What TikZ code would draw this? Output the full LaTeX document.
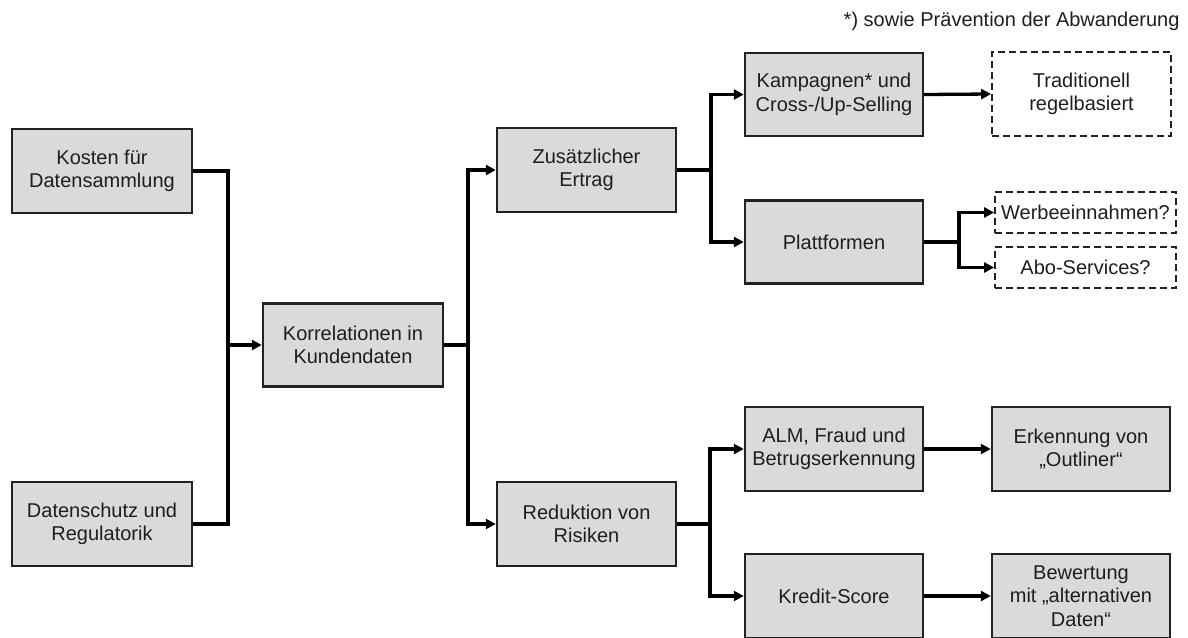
\documentclass[tikz,border=0pt]{standalone}
\usepackage{fontspec}
\setmainfont{Liberation Sans}
\usetikzlibrary{arrows.meta}
\definecolor{boxfill}{HTML}{DADADA}
\definecolor{boxline}{HTML}{222222}
\definecolor{txt}{HTML}{1E1E1E}
\tikzset{
  box/.style={draw=boxline, line width=2.4pt, fill=boxfill, minimum width=179pt, minimum height=84pt, inner sep=0pt, align=center, text=txt, font=\fontsize{20}{23.5}\selectfont},
  dbox/.style={draw=boxline, line width=1.8pt, dash pattern=on 7pt off 4pt, fill=white, minimum width=180pt, inner sep=0pt, align=center, text=txt, font=\fontsize{20}{23.5}\selectfont},
  conn/.style={line width=3.3pt, draw=black},
  arr/.style={conn, -{Triangle[length=10pt,width=10pt]}}
}
\begin{document}
\begin{tikzpicture}[x=1pt,y=-1pt]
\path[use as bounding box] (0,0) rectangle (1188,637);
\node[anchor=east, text=txt, font=\fontsize{20}{23}\selectfont] (note) at (1183,21) {*) sowie Prävention der Abwanderung};

\node[box, minimum width=180pt] (kosten) at (102,171) {Kosten für\\Datensammlung};
\node[box, minimum width=180pt] (daten) at (102,524) {Datenschutz und\\Regulatorik};
\node[box, minimum width=180pt, minimum height=83pt] (korr) at (353,345) {Korrelationen in\\Kundendaten};
\node[box] (zus) at (586.5,170) {Zusätzlicher\\Ertrag};
\node[box] (red) at (586.5,524) {Reduktion von\\Risiken};
\node[box, minimum width=178pt, minimum height=83pt] (kamp) at (834,94.5) {Kampagnen* und\\Cross-/Up-Selling};
\node[dbox, minimum width=179pt, minimum height=84pt] (trad) at (1081.5,94) {Traditionell\\regelbasiert};
\node[box, minimum width=178pt, minimum height=83pt] (platt) at (834,242) {Plattformen};
\node[dbox, minimum width=181pt, minimum height=41pt] (werbe) at (1085.5,212.5) {Werbeeinnahmen?};
\node[dbox, minimum width=181pt, minimum height=41pt] (abo) at (1085.5,267.5) {Abo-Services?};
\node[box, minimum width=178pt] (alm) at (834,449) {ALM, Fraud und\\Betrugserkennung};
\node[box, minimum width=178pt] (erk) at (1081,449) {Erkennung von\\„Outliner“};
\node[box, minimum width=178pt] (kredit) at (834,596) {Kredit-Score};
\node[box, minimum width=178pt] (bew) at (1081,596) {Bewertung\\mit „alternativen\\Daten“};

\coordinate (j1) at (228,345);
\coordinate (j2) at (468,345);
\coordinate (j3) at (711,170);
\coordinate (j4) at (959,242);
\coordinate (j5) at (710,524);

\draw[conn] (kosten.east) -| (j1);
\draw[conn] (daten.east) -| (j1);
\draw[arr] (j1) -- (korr.west);
\draw[conn] (korr.east) -- (j2);
\draw[arr] (j2) |- (zus.west);
\draw[arr] (j2) |- (red.west);
\draw[conn] (zus.east) -- (j3);
\draw[arr] (j3) |- (kamp.west);
\draw[arr] (j3) |- (platt.west);
\draw[arr] (kamp.east) -- (trad.west);
\draw[conn] (platt.east) -- (j4);
\draw[arr] (j4) |- (werbe.west);
\draw[arr] (j4) |- (abo.west);
\draw[conn] (red.east) -- (j5);
\draw[arr] (j5) |- (alm.west);
\draw[arr] (j5) |- (kredit.west);
\draw[arr] (alm.east) -- (erk.west);
\draw[arr] (kredit.east) -- (bew.west);
\end{tikzpicture}
\end{document}
